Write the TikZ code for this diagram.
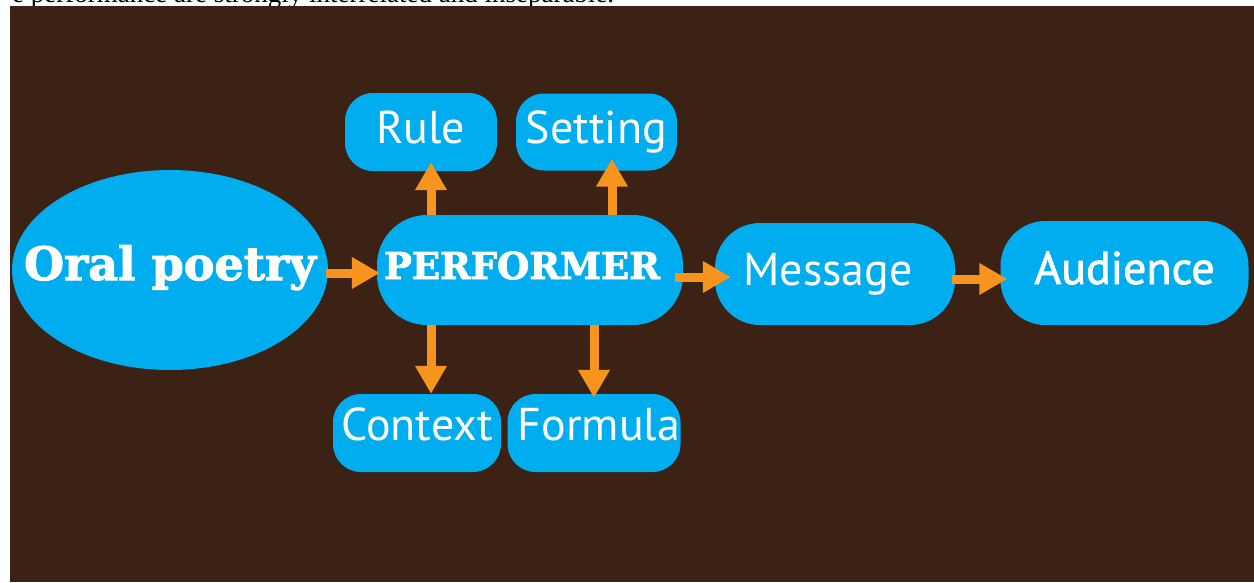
\documentclass[tikz,border=0pt]{standalone}
\usepackage{fontspec}
\usetikzlibrary{arrows.meta,shapes.geometric}
\newfontfamily\labelfont{PT Sans}
\newfontfamily\labelheavy{PT Sans}[FakeBold=1.6]
\newfontfamily\slabfont{DejaVu Serif}[BoldFeatures={FakeBold=2.2}]
\newfontfamily\bodyfont{Liberation Serif}
\definecolor{bgbrown}{HTML}{3C2214}
\definecolor{boxblue}{HTML}{00ADEE}
\definecolor{arrorange}{HTML}{F7941E}
\tikzset{
  box/.style={rectangle, fill=boxblue, text=white, inner sep=0pt,
    text height=33pt, text depth=11pt,
    font=\labelfont\fontsize{46}{50}\selectfont},
  lowtext/.style={text height=30pt, text depth=16pt},
  arr/.style={draw=arrorange, line width=9pt,
    -{Triangle[length=28pt,width=30pt]}, arrorange}
}
\begin{document}
\begin{tikzpicture}[x=1pt,y=-1pt]
\useasboundingbox (0,0) rectangle (1254,582);
% top strip with the end of the running text
\begin{scope}
  \clip (0,0) rectangle (1254,6);
  \node[anchor=base west, inner sep=0pt, font=\bodyfont\fontsize{27}{30}\selectfont]
    (runtext) at (12,2) {e performance are strongly interrelated and inseparable.};
\end{scope}
% panel
\fill[bgbrown] (10,6) rectangle (1254,582);

% source
\node[ellipse, fill=boxblue, text=white, inner sep=0pt,
  minimum width=316pt, minimum height=200pt,
  text height=30pt, text depth=10pt,
  font=\slabfont\bfseries\fontsize{46}{50}\selectfont] (oral) at (170,270) {\makebox[0pt]{Oral poetry}};
% centre
\node[box, minimum width=306pt, minimum height=110pt, rounded corners=50pt,
  text height=25pt, text depth=7pt,
  font=\slabfont\bfseries\fontsize{37}{40}\selectfont] (perf) at (530,270) {PERFORMER\kern16pt};
% satellites
\node[box, minimum width=152pt, minimum height=78pt, rounded corners=28pt] (rule) at (421,132) {Rule};
\node[box, minimum width=161pt, minimum height=77pt, rounded corners=28pt] (setting) at (596.5,132) {Setting};
\node[box, lowtext, minimum width=168pt, minimum height=78pt, rounded corners=28pt] (context) at (417,433) {Context};
\node[box, lowtext, minimum width=173pt, minimum height=78pt, rounded corners=28pt] (formula) at (594,433) {\kern10pt Formula};
% chain
\node[box, minimum width=240pt, minimum height=102pt, rounded corners=45pt] (message) at (835,274) {Message\kern14pt};
\node[box, minimum width=248pt, minimum height=104pt, rounded corners=45pt,
  font=\labelheavy\fontsize{46}{50}\selectfont] (audience) at (1124.5,273) {Audience};

% connectors
\draw[arr] ([xshift=-2pt,yshift=-3pt]oral.east) -- ([xshift=3pt,yshift=-3pt]perf.west);
\draw[arr] ([xshift=-99pt]perf.north) -- ([xshift=10pt,yshift=9pt]rule.south);
\draw[arr] ([xshift=82pt]perf.north) -- ([xshift=15.5pt,yshift=12pt]setting.south);
\draw[arr] ([xshift=-99pt]perf.south) -- ([xshift=14pt]context.north);
\draw[arr] ([xshift=64pt]perf.south) -- ([yshift=-4pt]formula.north);
\draw[arr] ([xshift=-8pt,yshift=-7pt]perf.east) -- ([xshift=16pt,yshift=-3pt]message.west);
\draw[arr] ([xshift=-3pt,yshift=-5pt]message.east) -- ([xshift=7pt,yshift=-6pt]audience.west);
\end{tikzpicture}
\end{document}
